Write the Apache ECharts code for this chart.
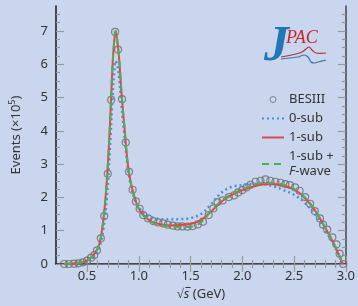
<!DOCTYPE html>
<html>
<head>
<meta charset="utf-8">
<script src="https://cdn.jsdelivr.net/npm/echarts@6/dist/echarts.min.js"></script>
<style>
  html, body { margin: 0; padding: 0; background: #c9d6ed; }
  #chart { width: 358px; height: 306px; }
</style>
</head>
<body>
<div id="chart"></div>
<script>
// BESIII data points (sqrt(s) in GeV, events in units of 1e5)
const besX = [0.28, 0.325, 0.373, 0.417, 0.46, 0.50, 0.54, 0.57, 0.596, 0.633, 0.666, 0.70, 0.733, 0.771, 0.80,
  0.838, 0.874, 0.905, 0.94, 0.972, 1.008, 1.043, 1.09, 1.14, 1.187, 1.235, 1.28, 1.33, 1.375, 1.42, 1.47,
  1.52, 1.57, 1.62, 1.675, 1.72, 1.76, 1.81, 1.87, 1.92, 1.96, 2.0, 2.04, 2.08, 2.128, 2.176, 2.224, 2.27,
  2.32, 2.37, 2.416, 2.46, 2.51, 2.553, 2.607, 2.655, 2.70, 2.75, 2.78, 2.82, 2.87, 2.91, 2.94, 2.975]
const besY = [0.0, 0.0, 0.01, 0.02, 0.05, 0.10, 0.19, 0.27, 0.41, 0.77, 1.44, 2.71, 4.93, 6.97, 6.44,
  4.95, 3.65, 2.77, 2.23, 1.88, 1.66, 1.47, 1.37, 1.29, 1.25, 1.22, 1.18, 1.15, 1.13, 1.13, 1.12,
  1.14, 1.19, 1.27, 1.47, 1.67, 1.86, 1.91, 2.01, 2.06, 2.15, 2.22, 2.30, 2.38, 2.47, 2.50, 2.54, 2.50,
  2.47, 2.44, 2.40, 2.37, 2.30, 2.20, 2.01, 1.81, 1.59, 1.37, 1.18, 1.03, 0.80, 0.59, 0.31, 0.0]

// model curves
const curveX = [0.28, 0.35, 0.40, 0.45, 0.50, 0.55, 0.60, 0.63, 0.66, 0.69, 0.72, 0.745, 0.765, 0.775, 0.79,
  0.81, 0.835, 0.86, 0.89, 0.92, 0.96, 1.00, 1.05, 1.10, 1.15, 1.20, 1.30, 1.40, 1.50, 1.60, 1.70, 1.80,
  1.90, 2.00, 2.10, 2.20, 2.30, 2.40, 2.50, 2.60, 2.70, 2.80, 2.90, 2.97]
const sub0 = [0.0, 0.01, 0.02, 0.04, 0.08, 0.18, 0.38, 0.62, 1.10, 1.95, 3.40, 5.00, 5.85, 6.10, 6.00,
  5.60, 4.70, 3.90, 3.00, 2.40, 1.95, 1.70, 1.52, 1.43, 1.38, 1.35, 1.34, 1.35, 1.38, 1.50, 1.80, 2.15,
  2.32, 2.37, 2.40, 2.40, 2.33, 2.22, 2.08, 1.85, 1.50, 1.02, 0.48, 0.0]
const sub1 = [0.0, 0.01, 0.02, 0.05, 0.10, 0.22, 0.45, 0.75, 1.40, 2.45, 4.10, 5.90, 6.80, 7.00, 6.75,
  6.15, 5.05, 4.15, 3.10, 2.48, 2.00, 1.66, 1.45, 1.32, 1.24, 1.20, 1.16, 1.17, 1.20, 1.32, 1.58, 1.88,
  2.08, 2.22, 2.32, 2.39, 2.40, 2.35, 2.24, 2.00, 1.62, 1.10, 0.50, 0.0]
const fwave = [0.0, 0.01, 0.02, 0.05, 0.10, 0.22, 0.45, 0.75, 1.40, 2.45, 4.10, 5.90, 6.82, 7.00, 6.78,
  6.18, 5.08, 4.17, 3.10, 2.47, 1.98, 1.65, 1.43, 1.30, 1.22, 1.17, 1.13, 1.11, 1.12, 1.25, 1.60, 1.90,
  2.10, 2.25, 2.36, 2.44, 2.44, 2.38, 2.26, 2.02, 1.63, 1.10, 0.52, 0.0]

// axis ticks
const xMajor = [0.5, 1.0, 1.5, 2.0, 2.5, 3.0]
const xMinor = [0.3, 0.4, 0.6, 0.7, 0.8, 0.9, 1.1, 1.2, 1.3, 1.4, 1.6, 1.7, 1.8, 1.9, 2.1, 2.2, 2.3, 2.4, 2.6, 2.7, 2.8, 2.9]
const yMajor = [0, 1, 2, 3, 4, 5, 6, 7]
const yMinor = [0.25, 0.5, 0.75, 1.25, 1.5, 1.75, 2.25, 2.5, 2.75, 3.25, 3.5, 3.75, 4.25, 4.5, 4.75,
  5.25, 5.5, 5.75, 6.25, 6.5, 6.75, 7.25, 7.5]

const FONT = 'Noto Sans'
const pairs = (xs, ys) => xs.map((x, i) => [x, ys[i]])

const xBase = { type: 'value', min: 0.2, max: 3.0, splitLine: { show: false } }
const yBase = { type: 'value', min: 0, max: 7.75, splitLine: { show: false } }
const tick = (values, len) => ({
  inside: true, length: len, customValues: values,
  lineStyle: { color: '#9a9a9a', width: 1.2 },
})
// legend entries for the curves: line only, no marker
const lineEntry = name => ({ name, itemStyle: { opacity: 0 } })

const chart = echarts.init(document.getElementById('chart'))
chart.setOption({
  backgroundColor: '#c9d6ed',
  animation: false,
  textStyle: { fontFamily: FONT },
  grid: { left: 54, right: 10, top: 6, bottom: 36 },
  legend: {
    left: 261, top: 92, padding: 0, orient: 'vertical',
    itemWidth: 22, itemHeight: 6, itemGap: 4,
    data: [{ name: 'BESIII', itemStyle: { borderWidth: 1 } }, lineEntry('0-sub'), lineEntry('1-sub'), lineEntry('1-sub + F-wave')],
    formatter: name => name === '1-sub + F-wave' ? '1-sub +\n{it|F}-wave' : name,
    textStyle: {
      fontFamily: FONT, fontSize: 13, color: '#333', lineHeight: 15,
      rich: { it: { fontStyle: 'italic', fontFamily: FONT, fontSize: 13, color: '#333', lineHeight: 15 } },
    },
  },
  xAxis: [
    {
      ...xBase, position: 'bottom',
      name: '√{it|s̅} (GeV)', nameLocation: 'middle', nameGap: 24,
      nameTextStyle: {
        fontSize: 13, color: '#333', fontFamily: FONT,
        rich: { it: { fontStyle: 'italic', fontSize: 13, color: '#333', fontFamily: FONT } },
      },
      axisLine: { lineStyle: { color: '#1a1a1a', width: 1.5 } },
      axisTick: tick(xMajor, 8),
      axisLabel: { customValues: xMajor, formatter: v => v.toFixed(1), fontSize: 13, color: '#333', margin: 6 },
    },
    { ...xBase, position: 'bottom', axisLine: { show: false }, axisTick: tick(xMinor, 4), axisLabel: { show: false } },
    {
      ...xBase, position: 'top',
      axisLine: { lineStyle: { color: '#777', width: 1.2 } },
      axisTick: tick(xMajor, 8), axisLabel: { show: false },
    },
    { ...xBase, position: 'top', axisLine: { show: false }, axisTick: tick(xMinor, 4), axisLabel: { show: false } },
  ],
  yAxis: [
    {
      ...yBase, position: 'left',
      name: 'Events (×10{sup|5})', nameLocation: 'middle', nameGap: 32, nameRotate: 90,
      nameTextStyle: {
        fontSize: 13, color: '#333', fontFamily: FONT,
        rich: { sup: { fontSize: 9, color: '#333', fontFamily: FONT, padding: [0, 0, 7, 0] } },
      },
      axisLine: { lineStyle: { color: '#1a1a1a', width: 1.5 } },
      axisTick: tick(yMajor, 8),
      axisLabel: { customValues: yMajor, fontSize: 13, color: '#333', margin: 8 },
    },
    { ...yBase, position: 'left', axisLine: { show: false }, axisTick: tick(yMinor, 4), axisLabel: { show: false } },
    {
      ...yBase, position: 'right',
      axisLine: { lineStyle: { color: '#444', width: 1.5 } },
      axisTick: tick(yMajor, 8), axisLabel: { show: false },
    },
    { ...yBase, position: 'right', axisLine: { show: false }, axisTick: tick(yMinor, 4), axisLabel: { show: false } },
  ],
  series: [
    {
      name: 'BESIII', type: 'scatter', data: pairs(besX, besY),
      symbol: 'circle', symbolSize: 7, z: 1,
      itemStyle: { color: 'rgba(0,0,0,0)', borderColor: '#6b6b6b', borderWidth: 1.2 },
    },
    {
      name: '0-sub', type: 'line', data: pairs(curveX, sub0), smooth: 0.35, symbol: 'none', z: 2,
      lineStyle: { color: '#4a92d6', width: 2.5, type: [2, 3] },
      itemStyle: { color: '#4a92d6' },
    },
    {
      name: '1-sub', type: 'line', data: pairs(curveX, sub1), smooth: 0.35, symbol: 'none', z: 3,
      lineStyle: { color: '#e0484e', width: 2 },
      itemStyle: { color: '#e0484e' },
    },
    {
      name: '1-sub + F-wave', type: 'line', data: pairs(curveX, fwave), smooth: 0.35, symbol: 'none', z: 4,
      lineStyle: { color: '#4fae4f', width: 2, type: [7, 5] },
      itemStyle: { color: '#4fae4f' },
    },
  ],
  graphic: [
    // JPAC logo
    {
      type: 'text', left: 264, top: 22, z: 10,
      style: { text: 'J', font: 'italic bold 50px "Liberation Serif"', fill: '#1f78b4' },
    },
    {
      type: 'text', left: 286, top: 29, z: 10,
      style: { text: 'PAC', font: 'italic 18px "Liberation Serif"', fill: '#c4262e' },
    },
    {
      type: 'polyline', z: 9,
      shape: { points: [[281, 57], [296, 54], [302, 52], [306, 49], [309, 47], [312, 50], [316, 53], [326, 53]], smooth: 0.4 },
      style: { stroke: '#b0303a', lineWidth: 1.2, fill: 'none' },
    },
    {
      type: 'polyline', z: 9,
      shape: { points: [[281, 59], [298, 57], [304, 55], [308, 57], [311, 62], [314, 63], [318, 62], [326, 60]], smooth: 0.4 },
      style: { stroke: '#3a78a8', lineWidth: 1.2, fill: 'none' },
    },
  ],
})
</script>
</body>
</html>
